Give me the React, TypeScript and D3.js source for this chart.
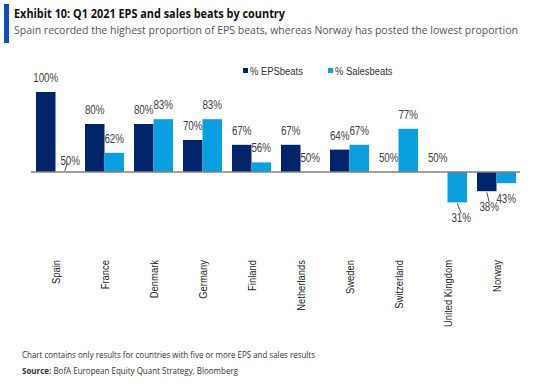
import React from "react";
import * as d3 from "d3";

const countries = [
  "Spain",
  "France",
  "Denmark",
  "Germany",
  "Finland",
  "Netherlands",
  "Sweden",
  "Switzerland",
  "United Kingdom",
  "Norway",
];
const epsBeats = [100, 80, 80, 70, 67, 67, 64, 50, 50, 38];
const salesBeats = [50, 62, 83, 83, 56, 50, 67, 77, 31, 43];
const seriesNames = ["% EPSbeats", "% Salesbeats"];

const W = 541;
const H = 387;
const EPS_COLOR = "#02246b";
const SALES_COLOR = "#0aa0e0";
const NARROW = "'Liberation Sans', Arial, sans-serif";
const UI = "'Open Sans', 'Noto Sans', sans-serif";
const SQUEEZE = 0.82; // fake Arial Narrow

// label tweaks: [dx, dy, leader line]
const nudge: Record<string, [number, number, boolean]> = {
  "Spain|1": [5, 3, true],
  "United Kingdom|1": [4, 0, true],
  "Norway|0": [2.5, 0, true],
};

function Narrow({
  transform,
  anchor = "start",
  size,
  fill,
  children,
}: {
  transform: string;
  anchor?: string;
  size: number;
  fill: string;
  children: React.ReactNode;
}) {
  return (
    <g transform={`${transform} scale(${SQUEEZE},1)`}>
      <text textAnchor={anchor} fontFamily={NARROW} fontSize={size} fill={fill}>
        {children}
      </text>
    </g>
  );
}

export default function App() {
  const x0 = d3.scaleBand<string>().domain(countries).range([31, 521]);
  const x1 = d3.scaleBand<number>().domain([0, 1]).range([5, 44]);
  const y = d3.scaleLinear().domain([50, 100]).range([172, 92]);
  const colors = [EPS_COLOR, SALES_COLOR];

  const points = countries.flatMap((c, i) =>
    [epsBeats[i], salesBeats[i]].map((v, s) => ({ c, s, v }))
  );

  return (
    <svg
      width={W}
      height={H}
      style={{ position: "absolute", left: 0, top: 0, background: "#fff" }}
    >
      {/* header */}
      <rect x={4} y={4} width={5} height={39} fill="#0a4fc4" />
      <text
        x={14}
        y={18}
        fontFamily={UI}
        fontWeight={700}
        fontSize={12}
        fill="#111"
        textLength={271}
        lengthAdjust="spacingAndGlyphs"
      >
        Exhibit 10: Q1 2021 EPS and sales beats by country
      </text>
      <text
        x={14}
        y={34}
        fontFamily={UI}
        fontSize={11.5}
        fill="#555"
        textLength={504}
        lengthAdjust="spacingAndGlyphs"
      >
        Spain recorded the highest proportion of EPS beats, whereas Norway has posted the lowest proportion
      </text>

      {/* legend */}
      {seriesNames.map((n, i) => (
        <g key={n} transform={`translate(${243 + i * 85},68)`}>
          <rect width={5} height={5} fill={colors[i]} />
          <Narrow transform="translate(7,6.5)" size={11.5} fill="#333">
            {n}
          </Narrow>
        </g>
      ))}

      {/* bars */}
      {points.map((p) => {
        const bx = x0(p.c)! + x1(p.s)!;
        const top = Math.min(y(p.v), y(50));
        return (
          <rect
            key={`${p.c}-${p.s}`}
            x={bx}
            y={top}
            width={x1.bandwidth()}
            height={Math.abs(y(p.v) - y(50))}
            fill={colors[p.s]}
          />
        );
      })}

      {/* baseline */}
      <line x1={31} x2={520} y1={y(50)} y2={y(50)} stroke="#808080" strokeWidth={1.5} />

      {/* value labels */}
      {points.map((p) => {
        const cx = x0(p.c)! + x1(p.s)! + x1.bandwidth() / 2;
        const [dx, dy, leader] = nudge[`${p.c}|${p.s}`] || [0, 0, false];
        const neg = p.v < 50;
        const by = (neg ? y(p.v) + 20 : y(p.v) - 10) + dy;
        return (
          <g key={`l-${p.c}-${p.s}`}>
            {leader &&
              (neg ? (
                <line x1={cx} y1={y(p.v) + 1} x2={cx + dx} y2={by - 9} stroke="#222" strokeWidth={0.8} />
              ) : (
                <line x1={cx - 0.5} y1={y(p.v) - 1} x2={cx + 2} y2={by - 2} stroke="#222" strokeWidth={0.8} />
              ))}
            <Narrow
              transform={`translate(${cx + dx},${by})`}
              anchor="middle"
              size={12}
              fill="#404040"
            >
              {p.v}%
            </Narrow>
          </g>
        );
      })}

      {/* category labels */}
      {countries.map((c) => (
        <Narrow
          key={c}
          transform={`translate(${x0(c)! + x0.bandwidth() / 2 + 4.5},260) rotate(-90)`}
          anchor="end"
          size={11.5}
          fill="#222"
        >
          {c}
        </Narrow>
      ))}

      {/* footer */}
      <text
        x={22}
        y={358}
        fontFamily={UI}
        fontSize={8.5}
        fill="#333"
        textLength={293}
        lengthAdjust="spacingAndGlyphs"
      >
        Chart contains only results for countries with five or more EPS and sales results
      </text>
      <text
        x={22}
        y={374}
        fontFamily={UI}
        fontSize={8.5}
        fill="#333"
        textLength={216}
        lengthAdjust="spacingAndGlyphs"
      >
        <tspan fontWeight={700}>Source:</tspan> BofA European Equity Quant Strategy, Bloomberg
      </text>
    </svg>
  );
}
